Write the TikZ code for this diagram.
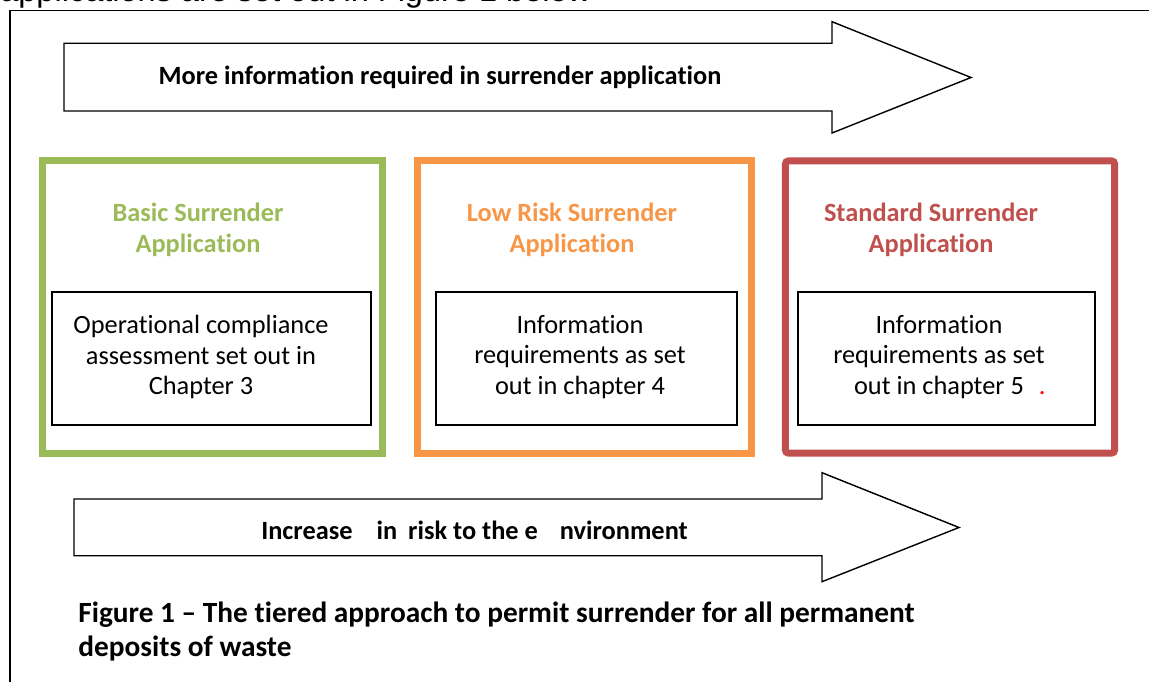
\documentclass[tikz,border=0pt]{standalone}
\usepackage{fontspec}
\setmainfont{Carlito}[Ligatures={TeX,NoCommon}]
\newfontfamily\introfont{Liberation Sans}
\usetikzlibrary{positioning}
\usepackage{xcolor}
\definecolor{basicgreen}{HTML}{9BBB59}
\definecolor{lowriskorange}{HTML}{F79646}
\definecolor{standardred}{HTML}{C0504D}

\begin{document}
\begin{tikzpicture}[x=0.02cm,y=-0.02cm,
  tier/.style={draw=#1,line width=4pt,minimum height=5.85cm},
  reqbox/.style={draw,line width=0.8pt,minimum width=#1,minimum height=2.66cm},
  heading/.style={text=#1,font=\fontsize{15}{17.6}\selectfont\bfseries,align=center},
  reqtext/.style={font=\fontsize{15}{17.6}\selectfont,align=center},
  bigarrow/.style={draw,line width=0.8pt,fill=white}]
		\useasboundingbox (0,0) rectangle (1149,682);
		\clip (0,0) rectangle (1149,682);
		\node[anchor=base west,inner sep=0pt,font=\introfont\fontsize{18.5}{22}\selectfont] (intro) at (0,1.5) {applications are set out in Figure 1 below};
		\draw[line width=0.9pt] (1160,10.7) -- (10,10.7) -- (10,700);
		% top arrow
		\draw[bigarrow] (64,43.3) -- (832,43.3) -- (832,21.7) -- (971,77.5) -- (832,133) -- (832,111) -- (64,111) -- cycle;
		\node[font=\fontsize{15}{17.6}\selectfont\bfseries] (more) at (440,77) {More information required in surrender application};
		% tiers
		\node[tier=basicgreen,minimum width=6.82cm] (basic) at (212.5,307) {};
		\node[tier=lowriskorange,minimum width=6.70cm] (lowrisk) at (584.5,307) {};
		\node[tier=standardred,minimum width=6.59cm,rounded corners=2pt] (standard) at (950,307) {};
		\node[reqbox=6.38cm] (basicreq) at (211.5,358.5) {};
		\node[reqbox=6.02cm] (lowriskreq) at (586.5,358.5) {};
		\node[reqbox=5.94cm] (standardreq) at (946.5,358.5) {};
		\node[heading=basicgreen] (basichead) at (198,229.5) {Basic Surrender\\Application};
		\node[heading=lowriskorange] (lowriskhead) at (572,229.5) {Low Risk Surrender\\Application};
		\node[heading=standardred] (standardhead) at (931,229.5) {Standard Surrender\\Application};
		\node[reqtext] (basictext) at (201,357) {Operational compliance\\assessment set out in\\Chapter 3};
		\node[reqtext] (lowrisktext) at (580,357) {Information\\requirements as set\\out in chapter 4};
		\node[reqtext] (standardtext) at (939,357) {Information\\requirements as set\\out in chapter 5\rlap{\hspace{0.3cm}\textcolor{red}{.}}};
		% bottom arrow
		\draw[bigarrow] (74,499) -- (822,499) -- (822,472.7) -- (959,527.5) -- (822,581.7) -- (822,555.7) -- (74,555.7) -- cycle;
		\node[font=\fontsize{15}{17.6}\selectfont\bfseries] (risk) at (474.5,530) {Increase\hspace{0.48cm}in\hspace{0.22cm}risk to the e\hspace{0.44cm}nvironment};
		\node[anchor=north west,inner sep=0pt,align=left,font=\fontsize{16.7}{19.3}\selectfont\bfseries] (caption) at (78,602) {Figure 1 -- The tiered approach to permit surrender for all permanent\\deposits of waste};
\end{tikzpicture}
\end{document}
